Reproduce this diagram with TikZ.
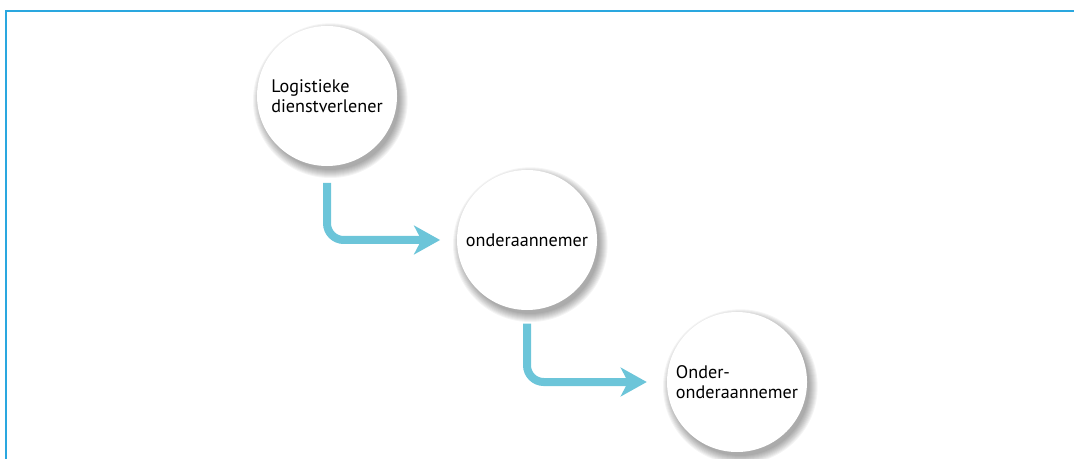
\documentclass[tikz,border=0pt]{standalone}
\usepackage{fontspec}
\setmainfont{PT Sans}
\usetikzlibrary{arrows.meta,backgrounds}
\definecolor{framecol}{HTML}{2AA7DF}
\definecolor{flowcol}{HTML}{6CC5D9}
\tikzset{
  actor/.style={circle, fill=white, minimum size=4.2cm, inner sep=0pt, align=left,
                font=\fontsize{15.5}{17.5}\selectfont},
  flow/.style={flowcol, line width=0.24cm, rounded corners=0.5cm,
               -{Stealth[length=0.78cm, width=0.86cm, inset=0.22cm]}},
}

\begin{document}
\begin{tikzpicture}[x=0.03cm,y=-0.03cm]
  \useasboundingbox (0,0) rectangle (1074,459);
  \draw[framecol, line width=0.06cm] (6,459) -- (6,11) -- (1074,11);

  \node[actor] (log)   at (327,96)  {Logistieke\\dienstverlener};
  \node[actor] (onder) at (527,240) {onderaannemer};
  \node[actor] (sub)   at (737,382) {Onder-\\onderaannemer};

  % soft shadows behind the circles
  \begin{scope}[on background layer]
    \foreach \n in {log,onder,sub}
      \foreach \r in {2.08,2.11,...,2.32}
        \fill[black, opacity=0.045] ([xshift=0.1cm,yshift=-0.14cm]\n.center) circle[radius=\r cm];
  \end{scope}

  \draw[flow] ([yshift=-0.5cm]log.south) |- ([xshift=-0.5cm]onder.west);
  \draw[flow] ([yshift=-0.4cm]onder.south) |- ([xshift=-0.6cm]sub.west);
\end{tikzpicture}
\end{document}
